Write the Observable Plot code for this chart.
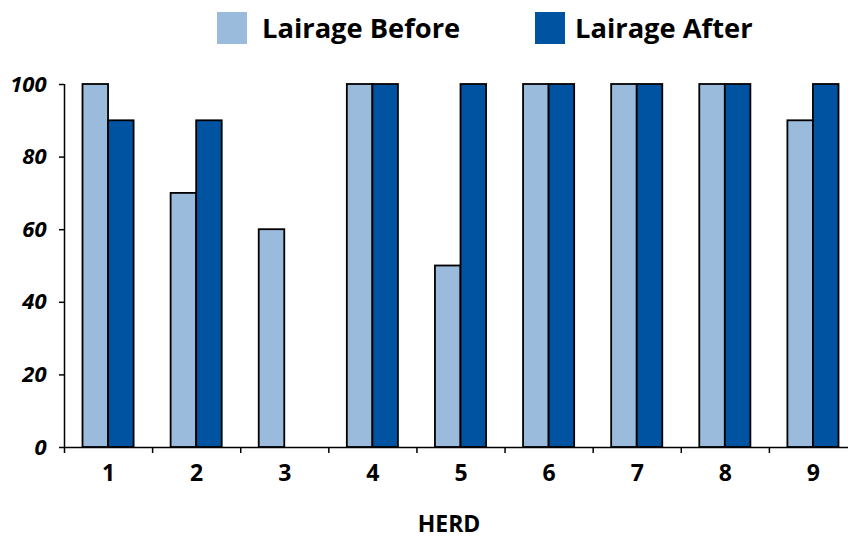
<!DOCTYPE html>
<html>
<head>
<meta charset="utf-8">
<script src="https://cdn.jsdelivr.net/npm/d3@7"></script>
<script src="https://cdn.jsdelivr.net/npm/@observablehq/plot@0.6"></script>
<style>
  html, body { margin: 0; padding: 0; background: #fff; overflow: hidden; width: 848px; height: 538px; }
  body { font-family: "Open Sans", sans-serif; }
  #legend { position: relative; height: 60px; }
  .item { position: absolute; top: 12px; display: flex; align-items: center; font-weight: 700; font-size: 27.3px; line-height: 32px; color: #000; }
  .swatch { width: 30px; height: 32px; }
  #chart { width: 857px; }
  #chart svg { max-width: none; }
</style>
</head>
<body>
<div id="legend"></div>
<div id="chart"></div>
<script>
// Herds and the percentage recorded before and after lairage
const herds = [1, 2, 3, 4, 5, 6, 7, 8, 9];
const lairageBefore = [100, 70, 60, 100, 50, 100, 100, 100, 90];
const lairageAfter = [90, 90, null, 100, 100, 100, 100, 100, 100];
const seriesNames = ["Lairage Before", "Lairage After"];
const seriesColors = ["#9abbdb", "#0053a0"];
const yTicks = [0, 20, 40, 60, 80, 100];
const xTitle = "HERD";

// Width of each bar of the pair (in herd units)
const barWidth = 0.29;

const rows = [];
herds.forEach((h, i) => {
  if (lairageBefore[i] != null) rows.push({herd: h, series: seriesNames[0], value: lairageBefore[i], x1: h - barWidth, x2: h});
  if (lairageAfter[i] != null) rows.push({herd: h, series: seriesNames[1], value: lairageAfter[i], x1: h, x2: h + barWidth});
});

// Separators between herd slots on the x axis
const slotEdges = herds.map(h => h - 0.5);

// Legend
const legend = document.getElementById("legend");
const legendLeft = [217, 535];
const legendGap = [15, 10];
seriesNames.forEach((name, i) => {
  const item = document.createElement("div");
  item.className = "item";
  item.style.left = legendLeft[i] + "px";
  const sw = document.createElement("span");
  sw.className = "swatch";
  sw.style.background = seriesColors[i];
  sw.style.marginRight = legendGap[i] + "px";
  const label = document.createElement("span");
  label.textContent = name;
  item.append(sw, label);
  legend.append(item);
});

const chart = Plot.plot({
  width: 857,
  height: 478,
  marginLeft: 64,
  marginRight: 0,
  marginTop: 24,
  marginBottom: 91,
  style: {fontFamily: "'Open Sans', sans-serif", color: "#000", background: "#fff"},
  x: {domain: [0.5, 9.5]},
  y: {domain: [0, 100]},
  color: {domain: seriesNames, range: seriesColors},
  marks: [
    Plot.rectY(rows, {x1: "x1", x2: "x2", y1: 0, y2: "value", fill: "series", stroke: "#000", strokeWidth: 1.8}),
    Plot.ruleY([0], {stroke: "#000", strokeWidth: 1.5}),
    Plot.ruleX([0.5], {y1: 0, y2: 100, stroke: "#000", strokeWidth: 1.5}),
    Plot.axisY({ticks: yTicks, tickSize: 5, tickPadding: 13, fontSize: 22, fontStyle: "italic", fontWeight: "bold", label: null, strokeWidth: 1.5}),
    Plot.axisX({ticks: slotEdges, tickSize: 6, tickFormat: () => "", label: null, strokeWidth: 1.5}),
    Plot.axisX({ticks: herds, tickSize: 0, tickPadding: 17, fontSize: 23, fontWeight: "bold", label: null}),
    Plot.text([xTitle], {frameAnchor: "bottom", lineAnchor: "middle", dx: -12, dy: 77, fontSize: 23, fontWeight: "bold", fill: "#000"})
  ]
});
document.getElementById("chart").append(chart);
</script>
</body>
</html>
